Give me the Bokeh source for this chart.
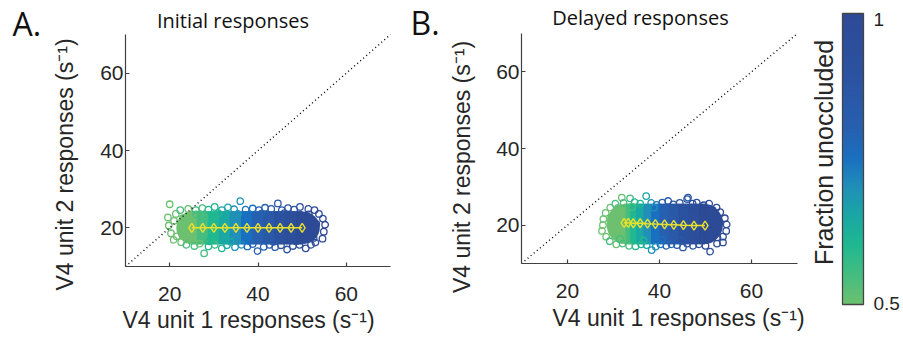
import numpy as np
from bokeh.plotting import figure
from bokeh.layouts import row
from bokeh.models import Range1d, Label, LinearColorMapper, FixedTicker, ColumnDataSource
from bokeh.embed import file_html
from bokeh.resources import INLINE

# ---------------- data ----------------
bin_frac = [0.5, 0.55, 0.6, 0.65, 0.7, 0.75, 0.8, 0.85, 0.9, 0.95, 1.0]
diag = [10, 70]
ticks = [20, 40, 60]

# Panel A (initial responses): per-bin means
a_mean_x = [25.0, 27.5, 30.0, 32.5, 35.0, 37.5, 40.0, 42.5, 45.0, 47.5, 50.0]
a_mean_y = [20.0, 20.0, 20.0, 20.0, 20.0, 20.0, 20.0, 20.0, 20.0, 20.0, 20.0]
# dense cloud extent: left, right, bottom, top
a_cloud = [21.5, 54.0, 15.8, 24.2]
# individual responses visible around the cloud
a_pts_x = [20.0, 19.6, 19.8, 20.3, 20.9, 21.4, 21.0, 21.6, 22.4, 22.6, 23.8, 24.2,
           25.6, 26.8, 27.8, 28.8, 30.2, 31.8, 33.0, 34.8, 36.3, 37.6, 38.8, 39.9,
           41.3, 42.6, 43.9, 45.2, 46.6, 47.9, 49.4, 50.8, 52.0,
           53.0, 54.6, 54.9, 55.2, 54.7, 53.8, 52.8,
           51.4, 49.5, 48.2, 46.8, 45.4, 44.5, 43.0, 41.6, 40.2, 38.8, 37.2, 36.0,
           34.6, 33.2, 31.8, 30.2, 28.8, 27.4, 25.9,
           23.0, 22.8, 24.0, 26.0, 29.0, 31.0, 33.8, 35.5, 38.0, 40.8, 43.5, 46.0,
           48.6, 51.5, 52.6, 53.2]
a_pts_y = [26.1, 22.7, 20.6, 18.6, 16.9, 23.6, 21.8, 17.8, 24.6, 16.3, 15.6, 24.9,
           15.3, 15.9, 13.4, 15.2, 15.6, 14.7, 15.5, 15.0, 15.6, 15.2, 15.8, 14.0,
           15.1, 15.6, 15.0, 15.5, 14.4, 15.3, 15.6, 14.7, 15.6,
           16.2, 17.2, 19.0, 20.8, 22.4, 23.6, 24.6,
           24.9, 25.4, 24.7, 25.1, 24.6, 26.3, 24.9, 25.2, 24.6, 25.0, 24.7, 26.9,
           24.8, 25.3, 24.6, 25.4, 24.7, 25.1, 24.6,
           22.5, 19.2, 17.0, 23.5, 16.5, 23.8, 16.4, 23.6, 16.6, 23.7, 16.4, 23.8,
           16.5, 23.5, 17.4, 21.0]
a_pts_f = [0.5, 0.5, 0.5, 0.5, 0.5, 0.5, 0.5, 0.5, 0.55, 0.5, 0.55, 0.5,
           0.55, 0.5, 0.55, 0.6, 0.55, 0.6, 0.65, 0.7, 0.7, 0.75, 0.8, 0.8,
           0.8, 0.85, 0.85, 0.9, 0.9, 0.95, 0.95, 1.0, 0.95,
           1.0, 1.0, 1.0, 1.0, 1.0, 1.0, 1.0,
           0.95, 0.95, 0.9, 0.9, 0.85, 0.85, 0.85, 0.8, 0.8, 0.75, 0.75, 0.7,
           0.7, 0.65, 0.65, 0.6, 0.6, 0.55, 0.55,
           0.5, 0.5, 0.5, 0.55, 0.6, 0.6, 0.65, 0.7, 0.75, 0.8, 0.85, 0.9,
           0.95, 1.0, 1.0, 1.0]

# Panel B (delayed responses)
b_mean_x = [32.3, 33.2, 34.3, 35.8, 37.4, 39.1, 41.1, 43.1, 45.2, 47.5, 49.9]
b_mean_y = [20.6, 20.6, 20.5, 20.5, 20.4, 20.3, 20.2, 20.1, 20.0, 19.9, 19.9]
b_cloud = [28.5, 53.8, 15.1, 25.5]
b_pts_x = [27.5, 27.8, 27.7, 28.3, 28.4, 29.3, 29.2, 30.4, 30.6,
           31.8, 32.2, 33.6, 34.6, 35.8, 37.1, 38.2, 39.4, 40.6, 41.9, 43.0, 44.4,
           46.0, 46.2, 47.2, 48.1, 49.6, 50.8, 52.4,
           53.2, 54.2, 54.6, 54.5, 53.8, 53.8, 52.5, 51.0,
           50.0, 48.6, 47.3, 46.0, 45.1, 43.8, 42.6, 41.5, 40.2, 39.2, 38.3, 37.2,
           36.0, 34.8, 33.4, 32.0,
           29.5, 29.8, 31.0, 31.4, 34.0, 36.5, 38.8, 40.5, 42.8, 44.6, 47.0, 48.9,
           51.5, 52.6, 53.0]
b_pts_y = [18.5, 21.6, 20.0, 23.2, 17.0, 24.6, 15.8, 25.6, 15.0,
           27.2, 25.8, 27.0, 26.0, 25.6, 27.6, 25.8, 25.3, 25.9, 26.3, 25.4, 25.8,
           26.8, 27.2, 25.6, 25.9, 25.2, 25.6, 24.6,
           23.4, 21.8, 20.2, 18.5, 17.0, 15.5, 15.2, 13.1,
           14.6, 15.0, 14.6, 15.2, 14.2, 14.8, 15.0, 14.6, 15.0, 14.4, 13.5, 14.8,
           15.0, 14.5, 14.6, 15.2,
           22.0, 18.2, 24.5, 16.4, 24.8, 16.0, 24.6, 16.2, 24.5, 16.0, 24.6, 16.1,
           24.0, 16.8, 20.8]
b_pts_f = [0.5, 0.5, 0.5, 0.5, 0.5, 0.5, 0.55, 0.55, 0.5,
           0.5, 0.55, 0.55, 0.6, 0.6, 0.65, 0.7, 0.75, 0.8, 0.85, 0.85, 0.9,
           0.9, 0.85, 0.95, 0.95, 1.0, 0.95, 1.0,
           1.0, 1.0, 1.0, 1.0, 1.0, 1.0, 0.95, 0.95,
           1.0, 0.95, 0.9, 0.9, 0.85, 0.85, 0.8, 0.8, 0.75, 0.7, 0.7, 0.65,
           0.6, 0.6, 0.55, 0.55,
           0.5, 0.5, 0.5, 0.55, 0.55, 0.6, 0.7, 0.75, 0.85, 0.85, 0.95, 0.95,
           1.0, 1.0, 1.0]

cbar_lo, cbar_hi = 0.5, 1.0
cbar_labels = ["0.5", "1"]

# ---------------- style ----------------
stop_pos = [0.0, 0.1, 0.2, 0.3, 0.4, 0.5, 0.6, 0.8, 1.0]
stop_hex = ["#6cc070", "#45bd80", "#20b890", "#1aa8a4", "#2090b8",
            "#1a70c0", "#2760b0", "#2b52a0", "#2d4a96"]


def _rgb(h):
    return [int(h[i:i + 2], 16) for i in (1, 3, 5)]


_t = np.linspace(0, 1, 256)
_c = np.array([_rgb(h) for h in stop_hex])
palette = ["#%02x%02x%02x" % tuple(int(round(np.interp(t, stop_pos, _c[:, k]))) for k in range(3))
           for t in _t]
mapper = LinearColorMapper(palette=palette, low=cbar_lo, high=cbar_hi)
cmap = {"field": "f", "transform": mapper}

YELLOW = "#e8e02c"
AXIS_C = "#404040"
TXT_C = "#262626"
SANS = "Liberation Sans"
HUM = "Open Sans"
FIG_H = 339


def panel(mean_x, mean_y, cloud, px, py, pf, fig_w, frame_l, frame_t, frame_w, frame_h,
          title, tx, ty, letter, lx, ly, xl, yl):
    sx = frame_w / 60.0
    sy = frame_h / 60.0
    xr = Range1d(10 - frame_l / sx, 10 + (fig_w - frame_l) / sx)
    yr = Range1d(70 - (FIG_H - frame_t) / sy, 70 + frame_t / sy)
    p = figure(width=fig_w, height=FIG_H, min_border=0, x_range=xr, y_range=yr,
               output_backend="svg", toolbar_location=None, tools="")
    p.min_border_left = p.min_border_right = p.min_border_top = p.min_border_bottom = 0
    p.outline_line_color = None
    p.grid.visible = False
    p.background_fill_color = "white"
    p.border_fill_color = "white"

    # dense core of the cloud: one strip per bin + rounded ends
    edges = [mean_x[0]] + [(mean_x[i] + mean_x[i + 1]) / 2 for i in range(len(mean_x) - 1)] + [mean_x[-1]]
    left, right, bottom, top = cloud
    cy = (bottom + top) / 2
    caps = ColumnDataSource(dict(x=[mean_x[0], mean_x[-1]], y=[cy, cy],
                                 w=[2 * (mean_x[0] - left), 2 * (right - mean_x[-1])],
                                 h=[top - bottom, top - bottom], f=[bin_frac[0], bin_frac[-1]]))
    p.ellipse(x="x", y="y", width="w", height="h", source=caps, fill_color=cmap, line_color=None)
    strips = ColumnDataSource(dict(l=edges[:-1], r=edges[1:], b=[bottom] * len(mean_x),
                                   t=[top] * len(mean_x), f=bin_frac))
    p.quad(left="l", right="r", bottom="b", top="t", source=strips, fill_color=cmap,
           line_color=cmap, line_width=1.0)

    pts = ColumnDataSource(dict(x=px, y=py, f=pf))
    p.scatter(x="x", y="y", source=pts, marker="circle", size=6.5, fill_color=None,
              line_color=cmap, line_width=1.3)

    p.line(diag, diag, line_color="black", line_width=1.4, line_dash="1 3")

    p.line(mean_x, mean_y, line_color=YELLOW, line_width=1.5)
    p.scatter(mean_x, mean_y, marker="diamond", size=9, fill_color=None,
              line_color=YELLOW, line_width=1.4)

    for ax in (p.xaxis[0], p.yaxis[0]):
        ax.fixed_location = 10
        ax.bounds = (10, 70)
        ax.ticker = FixedTicker(ticks=ticks)
        ax.axis_line_color = AXIS_C
        ax.axis_line_width = 1.2
        ax.major_tick_line_color = AXIS_C
        ax.major_tick_line_width = 1.2
        ax.major_tick_in = 4
        ax.major_tick_out = 0
        ax.minor_tick_line_color = None
        ax.major_label_text_font = SANS
        ax.major_label_text_font_size = "21px"
        ax.major_label_text_color = TXT_C
    p.xaxis.major_label_standoff = 20
    p.yaxis.major_label_standoff = 2

    p.add_layout(Label(x=xl[0], y=xl[1], text="V4 unit 1 responses (s⁻¹)", text_font=SANS,
                       text_font_size="23px", text_color=TXT_C, text_align="center",
                       text_baseline="middle"))
    p.add_layout(Label(x=yl[0], y=yl[1], text="V4 unit 2 responses (s⁻¹)", text_font=SANS,
                       text_font_size="23px", text_color=TXT_C, text_align="center",
                       text_baseline="middle", angle=np.pi / 2))
    p.add_layout(Label(x=tx, y=ty, text=title, text_font=HUM, text_font_size="20px",
                       text_color="#111111", text_align="center", text_baseline="middle"))
    p.add_layout(Label(x=lx, y=ly, text=letter, text_font=HUM, text_font_size="32px",
                       text_color="#111111", text_align="left", text_baseline="middle"))
    return p


pA = panel(a_mean_x, a_mean_y, a_cloud, a_pts_x, a_pts_y, a_pts_f,
           404, 125, 34, 265, 232,
           "Initial responses", 34.34, 73.70, "A.", -15.58, 72.72,
           (37.85, -3.84), (-3.81, 36.38))
pB = panel(b_mean_x, b_mean_y, b_cloud, b_pts_x, b_pts_y, b_pts_f,
           403, 117, 33, 276, 230,
           "Delayed responses", 35.87, 74.11, "B.", -14.13, 73.0,
           (44.13, -4.14), (-3.04, 35.17))

# colour bar (bar occupies pixels 35..56 x 13..304 of this figure)
CB_W = 96
bar_l, bar_w, bar_t, bar_h = 35, 21, 13, 291
v_lo, v_hi = 0.4975, 1.0105
csx = bar_w / 1.0
csy = bar_h / (v_hi - v_lo)
pC = figure(width=CB_W, height=FIG_H, min_border=0,
            x_range=Range1d(-bar_l / csx, (CB_W - bar_l) / csx),
            y_range=Range1d(v_hi - (FIG_H - bar_t) / csy, v_hi + bar_t / csy),
            x_axis_location=None, y_axis_location=None,
            output_backend="svg", toolbar_location=None, tools="")
pC.min_border_left = pC.min_border_right = pC.min_border_top = pC.min_border_bottom = 0
pC.grid.visible = False
pC.outline_line_color = None
ramp = np.linspace(cbar_lo, cbar_hi, 256).reshape(256, 1)
pC.image(image=[ramp], x=0, y=v_lo, dw=1, dh=v_hi - v_lo, color_mapper=mapper)
pC.quad(left=[0], right=[1], bottom=[v_lo], top=[v_hi], fill_color=None,
        line_color="#444444", line_width=1.3)
for val, txt in zip([cbar_lo, cbar_hi], cbar_labels):
    pC.add_layout(Label(x=1.476, y=val, text=txt, text_font=SANS, text_font_size="19px",
                        text_color=TXT_C, text_align="left", text_baseline="middle"))
pC.add_layout(Label(x=-0.88, y=0.7655, text="Fraction unoccluded", text_font=SANS,
                    text_font_size="25px", text_color=TXT_C, text_align="center",
                    text_baseline="middle", angle=np.pi / 2))

layout = row(pA, pB, pC)
open("out.html", "w").write(file_html(layout, INLINE))
